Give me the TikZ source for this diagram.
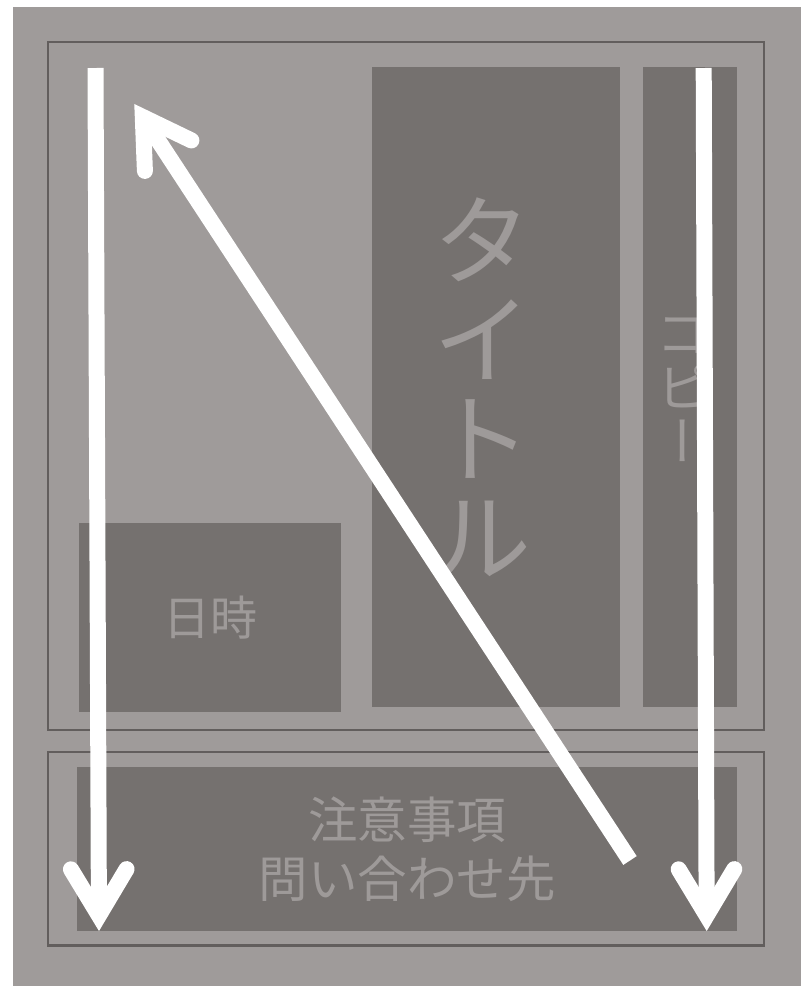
\documentclass[tikz,border=0pt]{standalone}
\usepackage{fontspec}
\usetikzlibrary{calc}
\usetikzlibrary{positioning}
\newfontfamily\jp{Noto Sans CJK JP}
\newfontfamily\jpvert[RawFeature=+vert]{Noto Sans CJK JP}
\definecolor{paper}{HTML}{9F9B9A}
\definecolor{boxgray}{HTML}{75716F}
\definecolor{rulegray}{HTML}{625E5D}
\definecolor{ink}{HTML}{9E9A99}
\tikzset{
  panel/.style={draw=rulegray, line width=2.8pt, inner sep=0pt},
  block/.style={fill=boxgray, inner sep=0pt, text=ink},
  label/.style={text=ink, inner sep=0pt, align=center},
  shaft/.style={draw=white, line width=16pt},
  barb/.style={draw=white, line width=16pt, line cap=round, line join=miter},
}
\newcommand\sweep[2]{
  \coordinate (#2 stem) at ($(#2)!15.5pt!(#1)$);
  \draw[shaft] (#1) -- (#2 stem);
  \draw[barb] ($(#2 stem)!54pt!31:(#1)$) -- (#2 stem) -- ($(#2 stem)!54pt!-31:(#1)$);
}
\begin{document}
\begin{tikzpicture}[x=1pt,y=-1pt]
  \useasboundingbox (0,0) rectangle (801,986);
  \fill[paper] (13,7) rectangle (801,986);

  % panels
  \node[panel, minimum width=716pt, minimum height=688pt] (upper) at (406,386) {};
  \node[panel, minimum width=716pt, minimum height=193.5pt] (lower) at (406,848.7) {};

  % blocks
  \node[block, minimum width=262pt, minimum height=189pt,
        font=\jp\fontsize{47}{47}\selectfont] (date) at (210,617.5) {日時};
  \node[block, minimum width=248pt, minimum height=640pt] (title) at (496,387) {};
  \node[label, font=\jp\fontsize{98}{99}\selectfont] (title text) at (482,387.5)
    {タ\\イ\\ト\\ル};
  \node[block, minimum width=94pt, minimum height=640pt] (copy) at (690,387) {};
  \node[label, font=\jpvert\fontsize{53}{54}\selectfont] (copy text) at (683,390)
    {コ\\ピ\\ー};
  \node[block, minimum width=660pt, minimum height=164pt, align=center,
        font=\jp\fontsize{49.5}{59}\selectfont] (notes) at (407,849)
    {注意事項\\問い合わせ先};

  % reading order
  \coordinate (left top) at (95.5,68);
  \coordinate (left tip) at (99,931);
  \coordinate (right top) at (703.7,68);
  \coordinate (right tip) at (706.7,931);
  \coordinate (slant tail) at (630,860.5);
  \coordinate (slant tip) at (134.3,104);

  \foreach \from/\to in {left top/left tip, right top/right tip, slant tail/slant tip} {
    \sweep{\from}{\to}
  }
\end{tikzpicture}
\end{document}
